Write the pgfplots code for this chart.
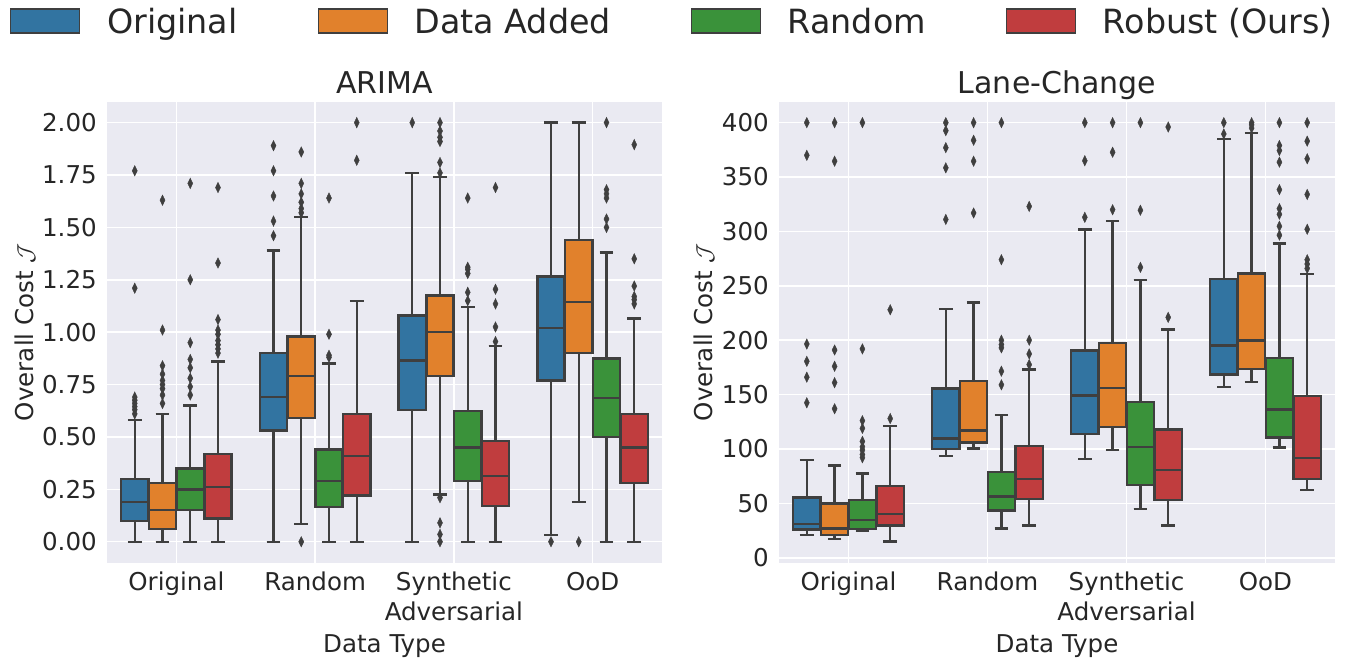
\documentclass[border=0pt]{standalone}
\usepackage{fontspec}
\setmainfont{DejaVu Sans}
\usepackage{pgfplots}
\pgfplotsset{compat=1.18}
\usepgfplotslibrary{statistics}

\definecolor{bgc}{HTML}{EAEAF2}
\definecolor{cB}{HTML}{3274A1}
\definecolor{cO}{HTML}{E1812C}
\definecolor{cG}{HTML}{3A923A}
\definecolor{cR}{HTML}{C03D3E}
\definecolor{edgec}{HTML}{3F3F3F}
\definecolor{txt}{HTML}{262626}

% one seaborn-like box: pos, colour, lower whisker, q1, median, q3, upper whisker, outliers
% (categories sit at 0,10,20,30 so that no product of units overflows)
\newcommand{\bx}[8]{%
  \addplot[forget plot, fill=#2, draw=edgec, line width=1.8pt,
    mark=diamond*, mark size=3.9pt,
    mark options={fill=edgec, draw=edgec, line width=0.3pt, xscale=0.65},
    boxplot prepared={draw direction=y, draw position=#1,
      lower whisker=#3, lower quartile=#4,
      median=#5, upper quartile=#6, upper whisker=#7}]
    table[row sep=\\, y index=0] {y\\ #8};}

\pgfplotsset{
  sb/.style={
    scale only axis, height=345.75pt,
    xmin=-5, xmax=35, xtick={0,10,20,30},
    xticklabels={Original,Random,{Synthetic\\Adversarial},OoD},
    grid=major, major grid style={white, line width=1.1pt},
    axis background/.style={fill=bgc},
    axis line style={draw=none},
    major tick length=0pt,
    tick label style={font=\fontsize{18.4}{22.5}\selectfont, text=txt},
    xticklabel style={align=center, anchor=north, inner sep=0pt, yshift=-7pt},
    yticklabel style={anchor=east, inner sep=0pt, xshift=-7.5pt},
    /pgf/number format/assume math mode=true,
    label style={font=\fontsize{18.4}{22}\selectfont, text=txt},
    xlabel={Data Type},
    xlabel style={at={(axis description cs:0.5,0)}, anchor=base, yshift=-67.7pt},
    ylabel={Overall Cost $\mathcal{J}$},
    title style={font=\fontsize{22.5}{27}\selectfont, text=txt,
      at={(axis description cs:0.5,1)}, anchor=base, yshift=0.5pt},
    boxplot/box extend=1.96,
    boxplot/whisker extend=0.98,
  }
}

\begin{document}
\begin{tikzpicture}
\path[use as bounding box] (0,0) rectangle (1008.75pt,496.5pt);

\begin{axis}[sb,
  at={(80.25pt,74.5pt)}, anchor=south west, width=416.25pt,
  title={ARIMA},
  ymin=-0.1, ymax=2.1,
  ytick={0,0.25,0.5,0.75,1,1.25,1.5,1.75,2},
  yticklabel style={/pgf/number format/.cd, fixed, fixed zerofill, precision=2},
  ylabel style={at={(axis description cs:-0.1333,0.5)}, anchor=base},
  legend style={at={(axis description cs:1.017,1.1729)}, anchor=center,
    draw=none, fill=none, font=\fontsize{25}{30}\selectfont, text=txt,
    legend columns=4, nodes={inner sep=0pt},
    /tikz/every odd column/.append style={column sep=20pt},
    /tikz/every even column/.append style={column sep=60pt}},
  legend image code/.code={\draw[#1, line width=1pt] (0pt,-8.25pt) rectangle (51.75pt,9.75pt);},
]
\addlegendimage{fill=cB, draw=edgec}\addlegendentry{Original}
\addlegendimage{fill=cO, draw=edgec}\addlegendentry{Data Added}
\addlegendimage{fill=cG, draw=edgec}\addlegendentry{Random}
\addlegendimage{fill=cR, draw=edgec}\addlegendentry{Robust (Ours)}

% Original
\bx{-3}{cB}{0}{0.10}{0.19}{0.30}{0.58}{0.61\\ 0.63\\ 0.645\\ 0.66\\ 0.675\\ 0.69\\ 1.21\\ 1.77\\}
\bx{-1}{cO}{0}{0.06}{0.15}{0.28}{0.61}{0.66\\ 0.70\\ 0.73\\ 0.75\\ 0.77\\ 0.80\\ 0.84\\ 1.01\\ 1.63\\}
\bx{1}{cG}{0}{0.15}{0.25}{0.35}{0.65}{0.70\\ 0.74\\ 0.78\\ 0.83\\ 0.87\\ 0.95\\ 1.25\\ 1.71\\}
\bx{3}{cR}{0}{0.11}{0.26}{0.42}{0.86}{0.90\\ 0.92\\ 0.94\\ 0.96\\ 0.99\\ 1.01\\ 1.06\\ 1.33\\ 1.69\\}
% Random
\bx{7}{cB}{0}{0.53}{0.69}{0.90}{1.39}{1.46\\ 1.53\\ 1.65\\ 1.77\\ 1.89\\}
\bx{9}{cO}{0.085}{0.59}{0.79}{0.98}{1.55}{0\\ 1.57\\ 1.59\\ 1.62\\ 1.66\\ 1.71\\ 1.86\\}
\bx{11}{cG}{0}{0.165}{0.29}{0.44}{0.85}{0.88\\ 0.89\\ 0.99\\ 1.64\\}
\bx{13}{cR}{0}{0.22}{0.41}{0.61}{1.15}{1.82\\ 2.0\\}
% Synthetic Adversarial
\bx{17}{cB}{0}{0.63}{0.865}{1.08}{1.76}{2.0\\}
\bx{19}{cO}{0.225}{0.79}{1.0}{1.175}{1.74}{0\\ 0.035\\ 0.09\\ 0.21\\ 1.76\\ 1.81\\ 1.91\\ 1.93\\ 1.96\\ 2.0\\}
\bx{21}{cG}{0}{0.29}{0.45}{0.625}{1.12}{1.15\\ 1.19\\ 1.28\\ 1.30\\ 1.31\\ 1.64\\}
\bx{23}{cR}{0}{0.17}{0.315}{0.48}{0.935}{0.955\\ 1.025\\ 1.135\\ 1.205\\ 1.69\\}
% OoD
\bx{27}{cB}{0.033}{0.77}{1.02}{1.265}{2.0}{0\\}
\bx{29}{cO}{0.19}{0.90}{1.145}{1.44}{2.0}{0\\}
\bx{31}{cG}{0}{0.50}{0.685}{0.875}{1.38}{1.50\\ 1.54\\ 1.64\\ 1.66\\ 1.68\\ 2.0\\}
\bx{33}{cR}{0}{0.28}{0.45}{0.61}{1.065}{1.135\\ 1.155\\ 1.17\\ 1.22\\ 1.35\\ 1.895\\}
\end{axis}

\begin{axis}[sb,
  at={(584.25pt,74.5pt)}, anchor=south west, width=417pt,
  title={Lane-Change},
  ymin=-4.5, ymax=419.3,
  ytick={0,50,100,150,200,250,300,350,400},
  ylabel style={at={(axis description cs:-0.1205,0.5)}, anchor=base},
]
% Original
\bx{-3}{cB}{21}{26}{31}{55.5}{90}{142.5\\ 166\\ 180.6\\ 196.5\\ 370\\ 400\\}
\bx{-1}{cO}{17}{21}{27}{50}{85}{137\\ 161\\ 176\\ 191\\ 364.6\\ 400\\}
\bx{1}{cG}{24.4}{26.5}{35}{53}{77.5}{92\\ 95\\ 99\\ 102\\ 107\\ 119\\ 126\\ 192\\ 400\\}
\bx{3}{cR}{15}{29.6}{40.3}{66}{121}{128\\ 228\\}
% Random
\bx{7}{cB}{93.7}{99.8}{109.8}{155.6}{228.5}{311\\ 358.5\\ 377\\ 392.7\\ 400\\}
\bx{9}{cO}{100.4}{106}{117}{162.3}{234.6}{317\\ 364.6\\ 383.8\\ 400\\}
\bx{11}{cG}{27}{43.3}{56.5}{79}{131}{159\\ 171.5\\ 193\\ 196\\ 200\\ 274\\ 400\\}
\bx{13}{cR}{29.6}{54}{72.3}{102.8}{173}{177.6\\ 187.4\\ 200\\ 323\\}
% Synthetic Adversarial
\bx{17}{cB}{91}{114}{149}{190.7}{301.8}{313\\ 365\\ 400\\}
\bx{19}{cO}{98.9}{120.5}{156}{197.4}{309.4}{320\\ 372.8\\ 400\\}
\bx{21}{cG}{44.9}{67}{102}{143}{255.4}{267\\ 319.5\\ 400\\}
\bx{23}{cR}{29.6}{53}{80.8}{118}{210}{221\\ 396\\}
% OoD
\bx{27}{cB}{157}{168.4}{195.3}{256.3}{385}{389.6\\ 400\\}
\bx{29}{cO}{161.7}{173.6}{199.8}{261.5}{390.6}{395\\ 398\\ 400\\}
\bx{31}{cG}{101.3}{110.5}{136.4}{183.7}{289}{296.6\\ 304.8\\ 315.8\\ 321\\ 338.4\\ 363.7\\ 374.4\\ 379\\ 400\\}
\bx{33}{cR}{62.5}{72.3}{91.5}{148.6}{260.9}{266\\ 270\\ 274\\ 302\\ 334\\ 366.8\\ 383\\ 400\\}
\end{axis}
\end{tikzpicture}
\end{document}
